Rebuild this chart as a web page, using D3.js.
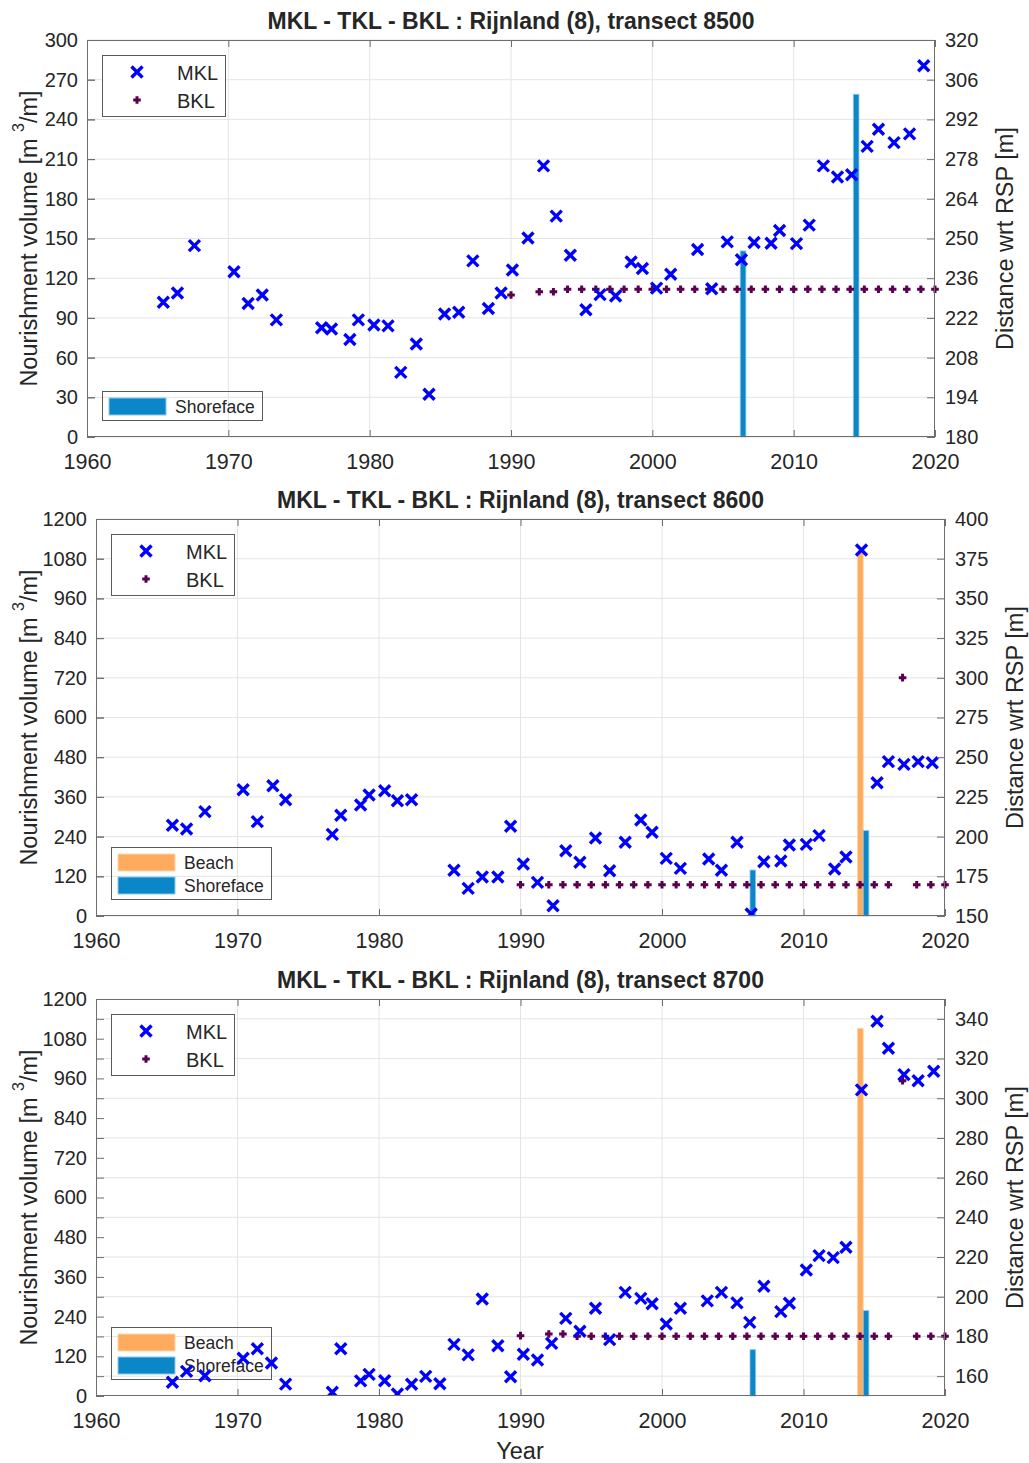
<!DOCTYPE html>
<html>
<head>
<meta charset="utf-8">
<script src="https://cdn.jsdelivr.net/npm/d3@7"></script>
<style>
  body { margin: 0; background: #fff; }
  text { font-family: "Liberation Sans", Arial, sans-serif; fill: #262626; }
</style>
</head>
<body>
<svg id="chart" width="1029" height="1463"></svg>
<script>
// ---- data ----
var decadeTicks = [1960, 1970, 1980, 1990, 2000, 2010, 2020];

var bklYears = [1990, 1992, 1993, 1994, 1995, 1996, 1997, 1998, 1999, 2000, 2001, 2002, 2003, 2004, 2005,
  2006, 2007, 2008, 2009, 2010, 2011, 2012, 2013, 2014, 2015, 2016, 2017, 2018, 2019, 2020];

var nourishYears = [2006, 2014];
var nourishTypes = ["Beach", "Shoreface"];

// transect 8500
var leftTicks8500 = [0, 30, 60, 90, 120, 150, 180, 210, 240, 270, 300];
var rightTicks8500 = [180, 194, 208, 222, 236, 250, 264, 278, 292, 306, 320];
var mklYears8500 = [1965.4, 1966.4, 1967.6, 1970.4, 1971.4, 1972.4, 1973.4, 1976.6, 1977.3, 1978.6, 1979.2,
  1980.3, 1981.3, 1982.2, 1983.3, 1984.2, 1985.3, 1986.3, 1987.3, 1988.4, 1989.3, 1990.1, 1991.2, 1992.3,
  1993.2, 1994.2, 1995.3, 1996.3, 1997.4, 1998.5, 1999.3, 2000.3, 2001.3, 2003.2, 2004.2, 2005.3, 2006.3,
  2007.2, 2008.4, 2009.0, 2010.2, 2011.1, 2012.1, 2013.1, 2014.1, 2015.2, 2016.0, 2017.1, 2018.2, 2019.2];
var mkl8500 = [227.5, 230.8, 247.5, 238.3, 227.1, 230.1, 221.3, 218.5, 218.1, 214.4, 221.3,
  219.5, 219.2, 202.8, 212.8, 195.1, 223.4, 224.0, 242.1, 225.3, 230.8, 238.9, 250.2, 275.6,
  257.9, 244.1, 224.9, 230.2, 229.7, 241.7, 239.4, 232.5, 237.4, 246.1, 232.3, 248.8, 242.5,
  248.6, 248.3, 252.8, 248.2, 254.7, 275.6, 271.7, 272.5, 282.5, 288.5, 283.8, 286.9, 310.9];
var bkl8500 = [230.1, 231.2, 231.2, 232.1, 232.1, 232.1, 232.1, 232.1, 232.1, 232.1, 232.1, 232.1, 232.1, 232.1, 232.1,
  232.1, 232.1, 232.1, 232.1, 232.1, 232.1, 232.1, 232.1, 232.1, 232.1, 232.1, 232.1, 232.1, 232.1, 232.1];
var beach8500 = [0, 0];
var shoreface8500 = [140.6, 259];

// transect 8600
var leftTicks8600 = [0, 120, 240, 360, 480, 600, 720, 840, 960, 1080, 1200];
var rightTicks8600 = [150, 175, 200, 225, 250, 275, 300, 325, 350, 375, 400];
var mklYears8600 = [1965.4, 1966.4, 1967.7, 1970.4, 1971.4, 1972.5, 1973.4, 1976.7, 1977.3, 1978.7, 1979.3,
  1980.4, 1981.3, 1982.3, 1985.3, 1986.3, 1987.3, 1988.4, 1989.3, 1990.2, 1991.2, 1992.3, 1993.2, 1994.2,
  1995.3, 1996.3, 1997.4, 1998.5, 1999.3, 2000.3, 2001.3, 2003.3, 2004.2, 2005.3, 2006.3, 2007.2, 2008.4,
  2009.0, 2010.2, 2011.1, 2012.2, 2013.0, 2014.1, 2015.2, 2016.0, 2017.1, 2018.1, 2019.1];
var mkl8600 = [207.1, 204.8, 215.7, 229.5, 209.4, 232.0, 223.2, 201.4, 213.4, 219.9, 226.2,
  228.9, 222.6, 223.2, 178.8, 167.4, 174.6, 174.6, 206.5, 182.7, 171.2, 156.5, 191.1, 183.8,
  199.1, 178.5, 196.4, 210.5, 202.7, 186.3, 180.0, 185.9, 178.8, 196.4, 151.3, 184.2, 184.6,
  194.7, 195.1, 200.6, 179.6, 187.2, 380.5, 233.9, 247.2, 245.5, 247.2, 246.5];
var bkl8600 = [169.7, 169.7, 169.7, 169.7, 169.7, 169.7, 169.7, 169.7, 169.7, 169.7, 169.7, 169.7, 169.7, 169.7, 169.7,
  169.7, 169.7, 169.7, 169.7, 169.7, 169.7, 169.7, 169.7, 169.7, 169.7, 169.7, 300.1, 169.7, 169.7, 169.7];
var beach8600 = [0, 1099];
var shoreface8600 = [139, 258];

// transect 8700
var leftTicks8700 = [0, 120, 240, 360, 480, 600, 720, 840, 960, 1080, 1200];
var rightTicks8700 = [150, 160, 180, 200, 220, 240, 260, 280, 300, 320, 340, 350];
var rightLabels8700 = [160, 180, 200, 220, 240, 260, 280, 300, 320, 340];
var mklYears8700 = [1965.4, 1966.4, 1967.7, 1970.4, 1971.4, 1972.4, 1973.4, 1976.7, 1977.3, 1978.7, 1979.3,
  1980.4, 1981.3, 1982.3, 1983.3, 1984.3, 1985.3, 1986.3, 1987.3, 1988.4, 1989.3, 1990.2, 1991.2, 1992.2,
  1993.2, 1994.2, 1995.3, 1996.3, 1997.4, 1998.5, 1999.3, 2000.3, 2001.3, 2003.2, 2004.2, 2005.3, 2006.2,
  2007.2, 2008.4, 2009.0, 2010.2, 2011.1, 2012.1, 2013.0, 2014.1, 2015.2, 2016.0, 2017.1, 2018.1, 2019.2];
var mkl8700 = [156.9, 162.4, 160.2, 169.0, 173.8, 166.6, 156.0, 151.9, 173.8, 157.6, 160.9,
  157.7, 151.0, 155.9, 159.9, 156.2, 176.0, 170.7, 198.9, 175.3, 159.7, 171.0, 168.1, 176.5,
  189.1, 182.6, 194.2, 178.4, 202.2, 199.2, 196.5, 186.3, 194.2, 197.9, 202.2, 196.9, 187.1,
  205.3, 192.5, 196.7, 213.5, 220.7, 219.7, 224.9, 304.2, 338.8, 325.2, 311.9, 308.8, 313.6];
var bkl8700 = [180.4, 181.2, 181.2, 180.1, 180.1, 180.1, 180.1, 180.1, 180.1, 180.1, 180.1, 180.1, 180.1, 180.1, 180.1,
  180.1, 180.1, 180.1, 180.1, 180.1, 180.1, 180.1, 180.1, 180.1, 180.1, 180.1, 308.8, 180.1, 180.1, 180.1];
var beach8700 = [0, 1111];
var shoreface8700 = [140, 258];

// ---- styling ----
var mklColor = "#0000ff";
var bklColor = "#5a004e";
var beachColor = "#ffab5e";
var shoreColor = "#0b86c8";
var axisColor = "#6e6e6e";
var gridColor = "#e4e4e4";

var svg = d3.select("#chart");

var panels = [
  { id: "8500", top: 40, bottom: 437, left: 87, right: 935,
    leftTicks: leftTicks8500, rightTicks: rightTicks8500, rightLabels: rightTicks8500,
    mklYears: mklYears8500, mkl: mkl8500, bkl: bkl8500, beach: beach8500, shore: shoreface8500,
    barLegend: ["Shoreface"] },
  { id: "8600", top: 519, bottom: 916, left: 96, right: 945,
    leftTicks: leftTicks8600, rightTicks: rightTicks8600, rightLabels: rightTicks8600,
    mklYears: mklYears8600, mkl: mkl8600, bkl: bkl8600, beach: beach8600, shore: shoreface8600,
    barLegend: ["Beach", "Shoreface"] },
  { id: "8700", top: 999, bottom: 1396, left: 96, right: 945,
    leftTicks: leftTicks8700, rightTicks: rightTicks8700, rightLabels: rightLabels8700,
    mklYears: mklYears8700, mkl: mkl8700, bkl: bkl8700, beach: beach8700, shore: shoreface8700,
    barLegend: ["Beach", "Shoreface"] }
];

function styleAxis(sel, size) {
  sel.select(".domain").remove();
  sel.selectAll(".tick line").attr("stroke", axisColor);
  sel.selectAll(".tick text").style("font-size", size + "px").attr("fill", "#262626");
}

function drawPanel(p) {
  var x = d3.scaleLinear().domain([1960, 2020]).range([p.left, p.right]);
  var yL = d3.scaleLinear().domain(d3.extent(p.leftTicks)).range([p.bottom, p.top]);
  var yR = d3.scaleLinear().domain(d3.extent(p.rightTicks)).range([p.bottom, p.top]);
  // offsets of beach / shoreface bars within a nourishment year
  var sub = d3.scaleBand().domain(nourishTypes).range([-0.18, 0.62]);

  var g = svg.append("g");

  g.append("clipPath").attr("id", "clip" + p.id)
    .append("rect")
    .attr("x", p.left - 5).attr("y", p.top)
    .attr("width", p.right - p.left + 10).attr("height", p.bottom - p.top);

  // grid
  g.append("g").selectAll("line").data(decadeTicks.slice(1, -1)).enter().append("line")
    .attr("x1", function(d) { return x(d); }).attr("x2", function(d) { return x(d); })
    .attr("y1", p.top).attr("y2", p.bottom)
    .attr("stroke", gridColor);
  g.append("g").selectAll("line").data(p.rightLabels).enter().append("line")
    .attr("x1", p.left).attr("x2", p.right)
    .attr("y1", function(d) { return yR(d); }).attr("y2", function(d) { return yR(d); })
    .attr("stroke", gridColor);

  // nourishment bars (left axis)
  var bars = [];
  nourishYears.forEach(function(yr, i) {
    bars.push({ year: yr, type: "Beach", v: p.beach[i] });
    bars.push({ year: yr, type: "Shoreface", v: p.shore[i] });
  });
  g.append("g").selectAll("rect").data(bars.filter(function(d) { return d.v > 0; }))
    .enter().append("rect")
    .attr("x", function(d) { return x(d.year + sub(d.type)); })
    .attr("width", function(d) { return x(d.year + sub(d.type) + sub.bandwidth()) - x(d.year + sub(d.type)); })
    .attr("y", function(d) { return yL(d.v); })
    .attr("height", function(d) { return yL(0) - yL(d.v); })
    .attr("fill", function(d) { return d.type === "Beach" ? beachColor : shoreColor; })
    .attr("stroke", function(d) { return d.type === "Beach" ? "#ffd3ab" : "#8cc8e6"; })
    .attr("stroke-width", 0.8);

  // bar legend (transparent box)
  var nb = p.barLegend.length;
  var bl = g.append("g");
  var boxH = nb === 1 ? 29 : 52;
  bl.append("rect")
    .attr("x", p.left + 15.5).attr("y", p.bottom - 16.5 - boxH)
    .attr("width", 160).attr("height", boxH)
    .attr("fill", "none").attr("stroke", "#5a5a5a");
  p.barLegend.forEach(function(name, i) {
    var cy = p.bottom - 16 - boxH + 14.5 + i * 23;
    bl.append("rect")
      .attr("x", p.left + 22).attr("y", cy - 8.5)
      .attr("width", 57).attr("height", 17)
      .attr("fill", name === "Beach" ? beachColor : shoreColor)
      .attr("stroke", name === "Beach" ? "#ffd3ab" : "#8cc8e6");
    bl.append("text")
      .attr("x", p.left + 88).attr("y", cy + 6.3)
      .style("font-size", "17.5px")
      .text(name);
  });

  // BKL and MKL markers (right axis)
  var marks = g.append("g").attr("clip-path", "url(#clip" + p.id + ")");
  marks.selectAll("path.bkl").data(d3.zip(bklYears, p.bkl)).enter().append("path")
    .attr("class", "bkl")
    .attr("d", function(d) {
      var cx = x(d[0]), cy = yR(d[1]);
      return "M" + (cx - 3.8) + "," + cy + "H" + (cx + 3.8) + "M" + cx + "," + (cy - 3.8) + "V" + (cy + 3.8);
    })
    .attr("stroke", bklColor).attr("stroke-width", 3);
  marks.selectAll("path.mkl").data(d3.zip(p.mklYears, p.mkl)).enter().append("path")
    .attr("class", "mkl")
    .attr("d", function(d) {
      var cx = x(d[0]), cy = yR(d[1]), r = 5.5;
      return "M" + (cx - r) + "," + (cy - r) + "L" + (cx + r) + "," + (cy + r) +
             "M" + (cx - r) + "," + (cy + r) + "L" + (cx + r) + "," + (cy - r);
    })
    .attr("stroke", mklColor).attr("stroke-width", 3.4);

  // MKL / BKL legend (white box)
  var ml = g.append("g");
  ml.append("rect")
    .attr("x", p.left + 15.5).attr("y", p.top + 15.5)
    .attr("width", 123).attr("height", 61)
    .attr("fill", "#fff").attr("stroke", "#5a5a5a");
  var lx = p.left + 50;
  ml.append("path")
    .attr("d", "M" + (lx - 5.5) + "," + (p.top + 26.5) + "L" + (lx + 5.5) + "," + (p.top + 37.5) +
               "M" + (lx - 5.5) + "," + (p.top + 37.5) + "L" + (lx + 5.5) + "," + (p.top + 26.5))
    .attr("stroke", mklColor).attr("stroke-width", 3.4);
  ml.append("path")
    .attr("d", "M" + (lx - 3.8) + "," + (p.top + 60) + "H" + (lx + 3.8) +
               "M" + lx + "," + (p.top + 56.2) + "V" + (p.top + 63.8))
    .attr("stroke", bklColor).attr("stroke-width", 3);
  ml.append("text").attr("x", p.left + 90).attr("y", p.top + 39.5).style("font-size", "20px").text("MKL");
  ml.append("text").attr("x", p.left + 90).attr("y", p.top + 67.5).style("font-size", "20px").text("BKL");

  // axes
  var ax = g.append("g");
  ax.append("g").attr("transform", "translate(0," + p.bottom + ")")
    .call(d3.axisBottom(x).tickValues(decadeTicks).tickFormat(d3.format("d"))
      .tickSizeInner(-7).tickSizeOuter(0).tickPadding(17))
    .call(styleAxis, 21.5);
  ax.append("g").attr("transform", "translate(0," + p.top + ")")
    .call(d3.axisTop(x).tickValues(decadeTicks).tickFormat("").tickSizeInner(-7).tickSizeOuter(0))
    .call(styleAxis, 20);
  ax.append("g").attr("transform", "translate(" + p.left + ",0)")
    .call(d3.axisLeft(yL).tickValues(p.leftTicks).tickFormat(d3.format("d"))
      .tickSizeInner(-8).tickSizeOuter(0).tickPadding(9))
    .call(styleAxis, 20);
  ax.append("g").attr("transform", "translate(" + p.left + ",0)")
    .call(d3.axisLeft(yR).tickValues(p.rightLabels).tickFormat("").tickSizeInner(-8).tickSizeOuter(0))
    .call(styleAxis, 20);
  ax.append("g").attr("transform", "translate(" + p.right + ",0)")
    .call(d3.axisRight(yR).tickValues(p.rightLabels).tickFormat(d3.format("d"))
      .tickSizeInner(-8).tickSizeOuter(0).tickPadding(10))
    .call(styleAxis, 20);
  ax.append("rect")
    .attr("x", p.left + 0.5).attr("y", p.top + 0.5)
    .attr("width", p.right - p.left - 1).attr("height", p.bottom - p.top - 1)
    .attr("fill", "none").attr("stroke", axisColor);

  // titles and axis labels
  g.append("text")
    .attr("x", (p.left + p.right) / 2).attr("y", p.top - 11)
    .attr("text-anchor", "middle")
    .style("font-size", "23px").style("font-weight", "bold").attr("fill", "#000")
    .text("MKL - TKL - BKL : Rijnland (8), transect " + p.id);

  var ly = (p.top + p.bottom) / 2;
  var yl = g.append("text")
    .attr("transform", "translate(37," + ly + ") rotate(-90)")
    .attr("text-anchor", "middle")
    .style("font-size", "23.5px");
  yl.append("tspan").text("Nourishment volume [m ");
  yl.append("tspan").attr("dy", -13).style("font-size", "16px").text("3");
  yl.append("tspan").attr("dy", 13).text("/m]");

  g.append("text")
    .attr("transform", "translate(" + (p.right + 78) + "," + ly + ") rotate(-90)")
    .attr("text-anchor", "middle")
    .style("font-size", "23.5px")
    .text("Distance wrt RSP [m]");
}

panels.forEach(drawPanel);

svg.append("text")
  .attr("x", 520).attr("y", 1459)
  .attr("text-anchor", "middle")
  .style("font-size", "23.5px")
  .text("Year");
</script>
</body>
</html>
